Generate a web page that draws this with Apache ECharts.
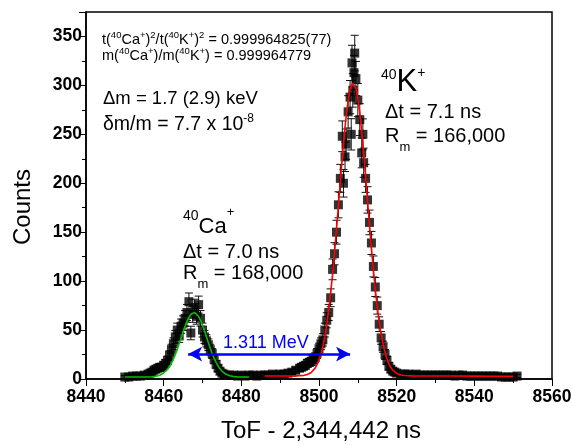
<!DOCTYPE html>
<html>
<head>
<meta charset="utf-8">
<script src="https://cdn.jsdelivr.net/npm/echarts@6/dist/echarts.min.js"></script>
<style>html,body{margin:0;padding:0;background:#fff;}#c{width:573px;height:445px;}</style>
</head>
<body>
<div id="c"></div>
<script>
// x tick labels / y tick labels
const xTicks = [8440, 8460, 8480, 8500, 8520, 8540, 8560];
const yTicks = [0, 50, 100, 150, 200, 250, 300, 350];

// measured points: [ToF - 2,344,442 ns, counts, error]
const caPoints = [
  [8450,2,1.4],[8451,2,1.4],[8452,3,1.7],[8453,3,1.7],[8454,3,1.7],[8455,4,2],[8456,5,2.2],[8456.5,6,2.4],
  [8457,7,2.6],[8457.5,9,3],[8458,10,3.2],[8458.5,11,3.3],[8459,12,3.5],[8459.5,12,3.5],[8460,14,3.7],
  [8460.5,16,4],[8461,19,4.4],[8461.5,24,4.9],[8462,30,5.5],[8462.5,36,6],[8463,43,6.6],[8463.5,50,7.1],
  [8464,44,6.6],[8464.5,54,7.3],[8465,57,7.5],[8465.5,62,7.9],[8466,68,8.2],[8466.5,79,8.9],[8467,47,6.9],
  [8467.5,66,8.1],[8468,73,8.5],[8468.5,64,8],[8469,76,8.7],[8469.5,62,7.9],[8470,50,7.1],[8470.5,43,6.6],
  [8471,39,6.2],[8471.5,35,5.9],[8472,30,5.5],[8472.5,26,5.1],[8473,20,4.5],[8473.5,15,3.9],[8474,11,3.3],
  [8474.5,8,2.8],[8475,6,2.4],[8475.5,5,2.2],[8476,4,2],[8477,4,2],[8478,4,2],[8479,3,1.7],[8480,4,2],
  [8481,3,1.7],[8482,4,2],[8483,4,2],[8484,3,1.7],[8485,4,2],[8486,4,2],[8487,4,2],[8488,5,2.2],[8489,4,2]
];
const kPoints = [
  [8490,5,2.2],[8491,5,2.2],[8492,6,2.4],[8493,7,2.6],[8494,9,3],[8495,11,3.3],[8495.5,12,3.5],[8496,13,3.6],
  [8496.5,14,3.7],[8497,16,4],[8497.5,17,4.1],[8498,18,4.2],[8498.5,20,4.5],[8499,22,4.7],[8499.5,26,5.1],
  [8500,31,5.6],[8500.5,36,6],[8501,40,6.3],[8501.5,50,7.1],[8502,60,7.7],[8502.5,68,8.2],[8503,83,9.1],
  [8503.5,112,10.6],[8504,128,11.3],[8504.5,150,12.2],[8505,178,13.3],[8505.5,205,14.3],[8506,248,15.7],
  [8506.3,200,14.1],[8506.7,227,15],[8507,240,15.5],[8507.5,273,16.5],[8508,288,17],[8508.3,250,16],
  [8508.5,323,18],[8508.7,295,17.2],[8509,313,17.7],[8509.2,333,18.2],[8509.5,307,17.5],[8510,285,16.9],
  [8510.5,265,16.3],[8511,231,15.2],[8511.3,250,15.8],[8511.5,221,14.9],[8512,205,14.3],[8512.5,183,13.5],
  [8513,160,12.6],[8513.5,139,11.8],[8514,115,10.7],[8514.5,94,9.7],[8515,75,8.7],[8515.5,56,7.5],
  [8516,42,6.5],[8516.5,33,5.7],[8517,25,5],[8517.5,19,4.4],[8518,13,3.6],[8518.5,10,3.2],[8519,8,2.8],
  [8519.5,7,2.6],[8520,6,2.4],[8521,5,2.2],[8522,5,2.2],[8523,5,2.2],[8524,4,2],[8525,5,2.2],[8526,4,2],
  [8527,4,2],[8528,4,2],[8529,4,2],[8530,4,2],[8531,4,2],[8532,4,2],[8533,4,2],[8534,4,2],[8535,3,1.7],
  [8536,4,2],[8537,4,2],[8538,3,1.7],[8539,3,1.7],[8540,3,1.7],[8541,3,1.7],[8542,3,1.7],[8543,3,1.7],
  [8544,3,1.7],[8545,3,1.7],[8546,3,1.7],[8547,2,1.4],[8548,2,1.4],[8549,2,1.4],[8550,2,1.4],[8551,3,1.7]
];

// fitted curves
const caFit = [
  [8450,2],[8452,2],[8454,2],[8455,2],[8456,2.1],[8457,2.3],[8458,2.8],[8458.5,3.2],[8459,3.9],[8459.5,4.8],
  [8460,6.1],[8460.5,7.7],[8461,9.9],[8461.5,12.7],[8462,16.1],[8462.5,20.2],[8463,25],[8463.5,30.3],
  [8464,36],[8464.5,42],[8465,48],[8465.5,53.7],[8466,58.9],[8466.5,63],[8467,66.1],[8467.5,67.7],
  [8468,67.9],[8468.5,66.5],[8469,63.8],[8469.5,59.8],[8470,54.9],[8470.5,49.3],[8471,43.3],[8471.5,37.2],
  [8472,31.4],[8472.5,26],[8473,21.1],[8473.5,16.9],[8474,13.4],[8474.5,10.4],[8475,8.1],[8475.5,6.4],
  [8476,5],[8477,3.4],[8478,2.6],[8479,2.2],[8480,2.1],[8482,2]
];
const kFit = [
  [8486,3],[8488,3],[8490,3],[8492,3.1],[8494,3.2],[8495,3.4],[8496,3.6],[8497,4.6],[8498,6.7],[8498.5,8.5],
  [8499,11.1],[8499.5,14.6],[8500,19.3],[8500.5,25.5],[8501,33.4],[8501.5,43.5],[8502,55.8],[8502.5,70.5],
  [8503,87.7],[8503.5,107.3],[8504,129],[8504.5,153],[8505,177],[8505.5,202],[8506,226.5],[8506.5,249],
  [8507,268.6],[8507.5,284.5],[8508,296],[8508.5,302],[8509,303],[8509.5,297.5],[8510,287],[8510.5,272],
  [8511,253],[8511.5,231],[8512,207],[8512.5,182],[8513,157.5],[8513.5,134],[8514,111.5],[8514.5,91.5],
  [8515,73.8],[8515.5,58.4],[8516,45.8],[8516.5,35.4],[8517,27],[8517.5,20.4],[8518,15.5],[8518.5,11.7],
  [8519,9],[8520,5.7],[8521,4.1],[8522,3.5],[8524,3.2],[8527,3.1],[8530,3],[8535,3],[8540,2.9],[8545,2.8],[8550,2.7]
];

// separation arrow (data coordinates)
const arrowEnds = [[8466.3, 25.5], [8508.0, 25.5]];

const FONT = '"Liberation Sans", Arial, sans-serif';
const allPoints = caPoints.concat(kPoints);

const chart = echarts.init(document.getElementById('c'), null, {renderer: 'canvas'});

function txt(x, y, text, size, rich, color, extra) {
  const st = {
    text: text, x: x, y: y,
    font: size + 'px ' + FONT,
    fill: color || '#000',
    align: 'left', verticalAlign: 'middle',
    textAlign: 'left', textVerticalAlign: 'middle',
    rich: rich || {}
  };
  return Object.assign({type: 'text', z: 100, silent: true, style: st}, extra || {});
}
function sup(size, pad) { return {font: size + 'px ' + FONT, fill: '#000', padding: [0, 0, pad, 0]}; }
function sub(size, pad) { return {font: size + 'px ' + FONT, fill: '#000', padding: [pad, 0, 0, 0]}; }

const graphics = [
  txt(102, 40, 't({s|40}Ca{s|+}){s|2}/t({s|40}K{s|+}){s|2} = 0.999964825(77)', 14.5, {s: sup(9.5, 10)}),
  txt(102, 56, 'm({s|40}Ca{s|+})/m({s|40}K{s|+}) = 0.999964779', 14.5, {s: sup(9.5, 10)}),
  txt(103, 99, '\u0394m = 1.7 (2.9) keV', 18.5),
  txt(103, 125, '\u03b4m/m = 7.7 x 10{s|-8}', 19.5, {s: sup(12, 13)}),
  txt(381, 82, '{a|40}K{b|+}', 31, {a: sup(14, 14), b: sup(14, 17)}),
  txt(385, 112, '\u0394t = 7.1 ns', 20),
  txt(385, 136, 'R{m|m} = 166,000', 20, {m: sub(13, 22)}),
  txt(183, 227, '{a|40}Ca{b|+}', 22, {a: sup(14, 22), b: sup(13, 29)}),
  txt(183, 252, '\u0394t = 7.0 ns', 20),
  txt(183, 273, 'R{m|m} = 168,000', 20, {m: sub(13, 22)}),
  txt(223, 343, '1.311 MeV', 18, null, '#0000ff'),
  {type: 'text', z: 100, silent: true, x: 23, y: 207, rotation: Math.PI / 2,
    style: {text: 'Counts', font: '24px ' + FONT, fill: '#000', align: 'center', verticalAlign: 'middle',
      textAlign: 'center', textVerticalAlign: 'middle'}},
  {type: 'text', z: 100, silent: true, x: 321, y: 431,
    style: {text: 'ToF - 2,344,442 ns', font: '24px ' + FONT, fill: '#000', align: 'center', verticalAlign: 'middle',
      textAlign: 'center', textVerticalAlign: 'middle'}}
];

const option = {
  animation: false,
  backgroundColor: '#fff',
  grid: {left: 86, right: 21, top: 12, bottom: 66, containLabel: false, outerBoundsMode: 'none',
    show: true, borderColor: '#000', borderWidth: 1.5, backgroundColor: 'transparent'},
  xAxis: {
    type: 'value', min: xTicks[0], max: xTicks[xTicks.length - 1], interval: 20,
    axisLine: {show: true, onZero: false, lineStyle: {color: '#000', width: 1.5}},
    axisTick: {show: true, length: 7, lineStyle: {color: '#000', width: 1}},
    minorTick: {show: true, splitNumber: 2, length: 4, lineStyle: {color: '#000', width: 1}},
    splitLine: {show: false}, minorSplitLine: {show: false},
    axisLabel: {color: '#000', fontFamily: FONT, fontWeight: 'bold', fontSize: 17.5, margin: 9,
      formatter: function (v) { return xTicks.indexOf(v) >= 0 ? String(v) : ''; }}
  },
  yAxis: {
    type: 'value', min: 0, max: 375, interval: 50,
    axisLine: {show: true, onZero: false, lineStyle: {color: '#000', width: 1.5}},
    axisTick: {show: true, length: 7, lineStyle: {color: '#000', width: 1}},
    minorTick: {show: true, splitNumber: 2, length: 4, lineStyle: {color: '#000', width: 1}},
    splitLine: {show: false}, minorSplitLine: {show: false},
    axisLabel: {color: '#000', fontFamily: FONT, fontWeight: 'bold', fontSize: 17.5, margin: 4, showMaxLabel: false,
      formatter: function (v) { return yTicks.indexOf(v) >= 0 ? String(v) : ''; }}
  },
  series: [
    {
      type: 'custom', name: 'err', data: allPoints, clip: true, silent: true, z: 2,
      encode: {x: 0, y: 1},
      renderItem: function (params, api) {
        const x = api.value(0), y = api.value(1), e = api.value(2);
        const t = api.coord([x, y + e]);
        const b = api.coord([x, y - e]);
        const w = 4;
        const s = {stroke: '#111', lineWidth: 1};
        return {type: 'group', children: [
          {type: 'line', shape: {x1: t[0], y1: t[1], x2: b[0], y2: b[1]}, style: s},
          {type: 'line', shape: {x1: t[0] - w, y1: t[1], x2: t[0] + w, y2: t[1]}, style: s},
          {type: 'line', shape: {x1: b[0] - w, y1: b[1], x2: b[0] + w, y2: b[1]}, style: s}
        ]};
      }
    },
    {
      type: 'scatter', name: 'data', data: allPoints.map(p => [p[0], p[1]]), symbol: 'rect', symbolSize: 9,
      itemStyle: {color: '#000'}, silent: true, z: 3
    },
    {
      type: 'line', name: 'CaFit', data: caFit, showSymbol: false, symbol: 'none', smooth: false, z: 4,
      lineStyle: {color: '#00c000', width: 1.6}, silent: true
    },
    {
      type: 'line', name: 'KFit', data: kFit, showSymbol: false, symbol: 'none', smooth: false, z: 4,
      lineStyle: {color: '#ff0000', width: 1.6}, silent: true,
      markLine: {
        silent: true, symbol: ['arrow', 'arrow'], symbolSize: [11, 14], animation: false,
        label: {show: false}, emphasis: {disabled: true},
        lineStyle: {color: '#0000ff', width: 2.5, type: 'solid'},
        data: [[{coord: arrowEnds[0]}, {coord: arrowEnds[1]}]]
      }
    }
  ],
  graphic: graphics
};
chart.setOption(option);
</script>
</body>
</html>
